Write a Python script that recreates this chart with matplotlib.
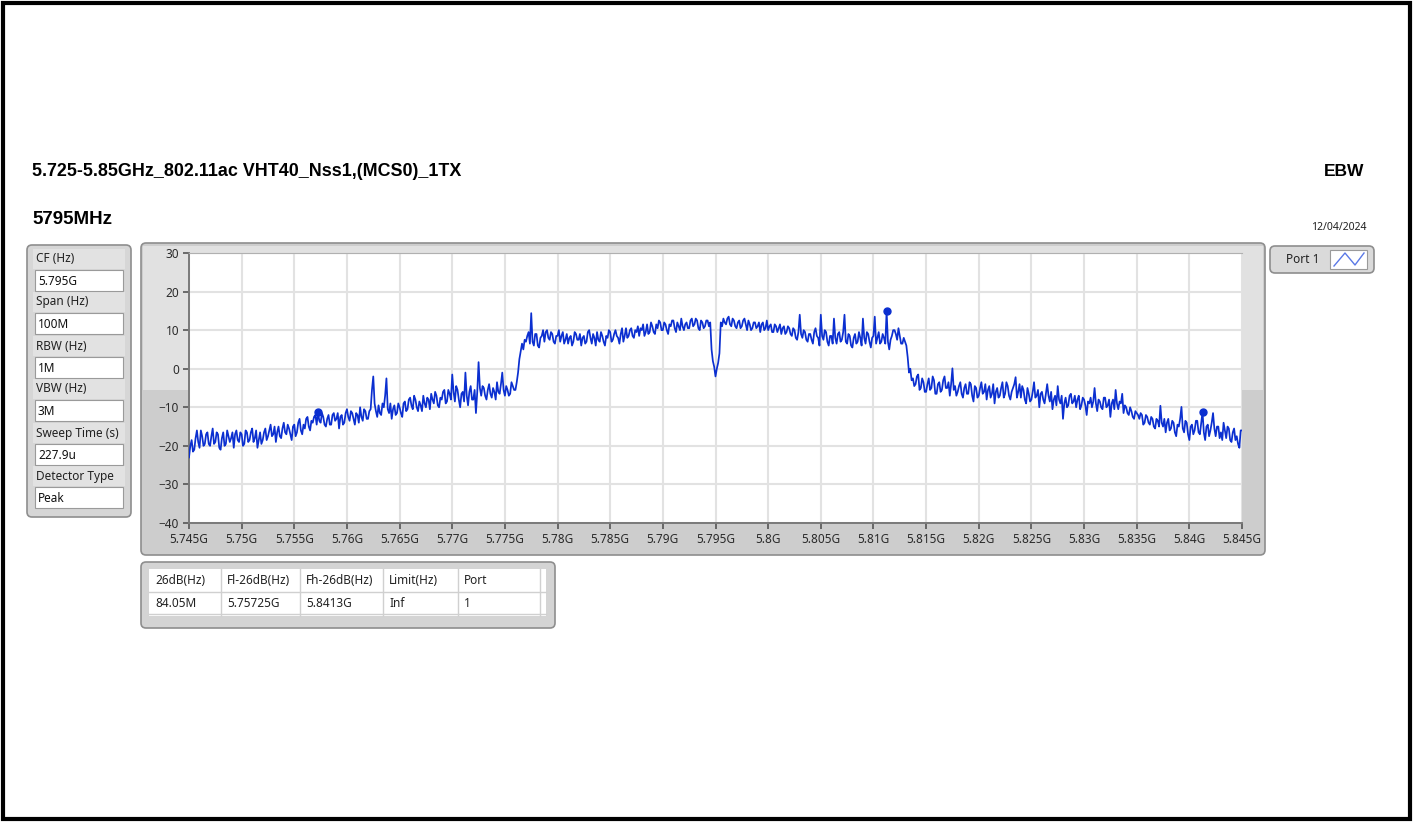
import numpy as np
import matplotlib.pyplot as plt
from matplotlib.patches import FancyBboxPatch, Rectangle
from matplotlib.lines import Line2D

plt.rcParams['font.family'] = ['Noto Sans', 'DejaVu Sans']
HEAD_FONT = ['Liberation Sans', 'DejaVu Sans']

W, H = 1415, 822

# ---- measurement settings / results ----
TITLE = "5.725-5.85GHz_802.11ac VHT40_Nss1,(MCS0)_1TX"
TEST_NAME = "EBW"
CHANNEL = "5795MHz"
DATE = "12/04/2024"

setting_names = ["CF (Hz)", "Span (Hz)", "RBW (Hz)", "VBW (Hz)", "Sweep Time (s)", "Detector Type"]
setting_values = ["5.795G", "100M", "1M", "3M", "227.9u", "Peak"]

table_header = ["26dB(Hz)", "Fl-26dB(Hz)", "Fh-26dB(Hz)", "Limit(Hz)", "Port"]
table_row = ["84.05M", "5.75725G", "5.8413G", "Inf", "1"]
fl_26db = 5.75725
fh_26db = 5.8413

f_start, f_stop = 5.745, 5.845
x_ticks = np.round(np.arange(f_start, f_stop + 0.0001, 0.005), 3)
x_tick_labels = ["5.745G", "5.75G", "5.755G", "5.76G", "5.765G", "5.77G", "5.775G",
                 "5.78G", "5.785G", "5.79G", "5.795G", "5.8G", "5.805G", "5.81G",
                 "5.815G", "5.82G", "5.825G", "5.83G", "5.835G", "5.84G", "5.845G"]
y_ticks = [-40, -30, -20, -10, 0, 10, 20, 30]

# trace level in dBm, one row per MHz (0.125 MHz steps)
trace_db = [
    -23.0, -20.0, -18.5, -21.5, -21.0, -18.0, -16.0, -19.0,
    -20.5, -16.0, -17.5, -20.0, -19.5, -17.0, -16.5, -19.5,
    -20.0, -17.5, -15.5, -19.5, -19.0, -16.5, -17.0, -20.5,
    -21.0, -18.0, -16.5, -20.0, -19.5, -16.0, -17.5, -19.0,
    -18.0, -16.5, -20.5, -17.0, -16.0, -18.5, -19.0, -16.5,
    -17.0, -20.0, -19.5, -16.0, -16.5, -19.0, -18.5, -16.5,
    -15.5, -19.0, -18.0, -16.0, -20.5, -18.5, -16.5, -19.5,
    -18.5, -16.5, -15.5, -18.5, -17.5, -16.0, -14.5, -17.5,
    -17.0, -15.0, -19.0, -16.5, -15.0, -17.5, -18.0, -15.5,
    -14.0, -16.5, -17.0, -14.5, -15.5, -17.0, -18.5, -15.0,
    -14.5, -17.5, -16.5, -14.0, -13.0, -16.0, -17.0, -14.5,
    -15.5, -13.0, -12.5, -15.0, -16.0, -13.5, -14.0, -12.5,
    -12.0, -14.5, -11.2, -13.5, -14.0, -11.5, -12.5, -14.5,
    -15.0, -13.0, -12.0, -14.5, -14.5, -12.0, -11.5, -13.5,
    -13.0, -11.5, -15.5, -12.5, -12.0, -14.5, -14.0, -11.5,
    -10.5, -12.5, -13.5, -11.0, -11.5, -13.0, -14.5, -11.5,
    -12.0, -14.0, -10.0, -12.5, -13.5, -10.5, -11.0, -13.0,
    -13.0, -11.0, -10.5, -5.5, -2.0, -9.0, -11.0, -12.5,
    -9.5, -11.5, -12.0, -9.0, -10.0, -7.0, -2.5, -10.5,
    -11.5, -9.0, -13.0, -10.5, -9.5, -12.0, -11.5, -9.0,
    -10.0, -11.5, -12.5, -9.0, -8.5, -11.0, -10.5, -8.0,
    -7.5, -9.5, -10.5, -7.0, -8.0, -10.0, -11.0, -8.5,
    -9.5, -11.0, -7.0, -9.0, -10.0, -7.5, -8.0, -10.5,
    -6.5, -8.0, -9.0, -6.0, -7.0, -9.5, -10.0, -7.5,
    -8.0, -6.0, -5.5, -9.0, -8.5, -5.5, -6.5, -8.0,
    -1.5, -6.0, -8.5, -4.5, -5.5, -8.0, -10.0, -6.5,
    -6.0, -8.5, -1.0, -7.0, -9.5, -6.0, -4.5, -8.0,
    -8.0, -5.5, -11.5, -6.0, 1.7, -5.0, -7.0, -4.5,
    -5.0, -7.0, -8.0, -5.5, -4.0, -6.5, -7.5, -5.0,
    -6.0, -8.0, -3.5, -6.0, -6.5, -4.0, -1.0, -5.5,
    -7.0, -4.5, -5.5, -7.0, -6.5, -3.5, -4.5, -5.5,
    -5.5, -3.5, -1.0, 2.5, 4.5, 6.5, 5.0, 7.5,
    7.0, 8.5, 9.5, 6.5, 14.4, 7.0, 6.0, 9.0,
    9.0, 6.0, 5.5, 8.0, 8.5, 10.0, 7.0, 9.5,
    10.0, 8.0, 7.5, 9.5, 9.0, 7.0, 6.5, 8.5,
    8.5, 10.0, 7.0, 8.5, 9.5, 6.5, 7.5, 9.0,
    6.5, 8.0, 8.5, 6.0, 7.0, 9.5, 9.0, 7.5,
    7.5, 9.0, 6.0, 8.0, 8.5, 6.5, 7.0, 9.5,
    10.0, 8.0, 6.5, 9.0, 8.0, 6.0, 9.5, 7.5,
    7.0, 9.5, 8.5, 7.0, 6.0, 8.5, 8.0, 10.0,
    9.5, 7.0, 7.5, 9.0, 10.0, 8.5, 8.0, 6.5,
    9.0, 10.5, 7.0, 8.5, 10.5, 8.0, 8.5, 10.0,
    10.5, 8.5, 8.0, 10.0, 9.5, 11.0, 8.5, 10.5,
    10.0, 11.5, 8.5, 9.5, 11.5, 9.0, 9.5, 12.0,
    11.0, 9.5, 9.0, 11.5, 10.5, 12.5, 12.0, 10.0,
    10.0, 12.0, 11.5, 10.0, 9.0, 11.5, 11.0, 12.5,
    12.5, 10.5, 9.5, 12.0, 11.0, 10.0, 13.0, 11.0,
    10.0, 11.5, 12.0, 10.5, 10.5, 12.5, 13.0, 11.0,
    11.5, 13.0, 12.5, 10.5, 10.0, 12.5, 12.0, 10.5,
    11.0, 12.5, 12.5, 11.0, 12.0, 5.0, 2.0, 0.5,
    -2.0, 0.0, 1.5, 4.0, 12.0, 11.0, 13.0, 12.0,
    11.5, 13.0, 13.5, 11.5, 11.0, 13.0, 12.5, 11.0,
    10.5, 12.0, 12.5, 10.5, 11.0, 12.5, 13.0, 11.5,
    10.0, 12.5, 11.5, 10.0, 10.5, 12.0, 12.0, 10.5,
    11.0, 12.0, 9.5, 11.5, 12.0, 10.0, 10.5, 12.5,
    10.0, 11.0, 11.5, 9.5, 9.5, 11.5, 11.0, 9.5,
    10.5, 11.5, 9.0, 10.5, 11.0, 9.0, 9.5, 11.0,
    10.5, 9.0, 8.5, 10.5, 10.0, 8.0, 7.5, 9.5,
    14.0, 9.0, 8.0, 10.0, 9.5, 7.5, 7.0, 9.0,
    9.0, 7.5, 6.5, 9.5, 10.5, 8.5, 8.0, 6.0,
    14.0, 8.5, 7.5, 10.0, 9.5, 7.0, 6.0, 8.5,
    8.5, 6.5, 13.0, 8.0, 6.5, 9.0, 9.5, 7.0,
    7.5, 9.5, 14.0, 7.0, 6.5, 9.0, 8.5, 6.0,
    5.5, 8.0, 9.0, 6.5, 7.0, 9.5, 8.0, 6.0,
    13.0, 8.0, 6.5, 9.5, 9.0, 7.0, 5.5, 8.0,
    8.5, 13.5, 6.5, 8.0, 9.5, 6.5, 7.0, 9.0,
    8.0, 6.5, 14.9, 7.0, 5.0, 7.5, 8.5, 10.0,
    10.0, 9.0, 7.5, 10.5, 8.5, 6.5, 6.5, 8.0,
    7.0, 6.0, 3.0, -1.0, 0.0, -3.0, -2.5, -4.5,
    -4.0, -2.0, -1.5, -5.5, -5.0, -2.5, -3.5, -6.0,
    -6.0, -4.0, -2.5, -5.5, -5.0, -2.0, -3.0, -6.5,
    -6.5, -4.0, -3.5, -6.0, -5.5, -3.0, -2.0, -5.0,
    -5.0, -3.5, -7.0, -4.0, 0.1, -5.5, -4.5, -7.0,
    -6.0, -4.5, -3.5, -6.5, -7.5, -5.0, -4.0, -6.5,
    -6.5, -3.5, -4.0, -7.0, -8.5, -4.5, -5.0, -7.5,
    -7.0, -5.0, -3.5, -6.5, -6.0, -4.0, -8.0, -5.5,
    -4.5, -7.5, -6.5, -4.0, -9.0, -6.0, -5.0, -7.5,
    -7.0, -5.0, -3.5, -7.5, -6.5, -3.5, -4.5, -7.0,
    -8.0, -6.0, -5.0, -4.0, -2.2, -7.5, -6.0, -4.0,
    -7.5, -4.5, -5.5, -8.0, -9.0, -5.0, -6.5, -8.5,
    -8.0, -6.0, -3.5, -7.5, -7.0, -5.5, -10.0, -6.5,
    -6.0, -8.0, -9.0, -6.5, -4.0, -7.0, -8.5, -6.0,
    -10.5, -8.0, -7.0, -9.5, -4.5, -8.0, -9.0, -7.0,
    -13.0, -9.0, -7.5, -10.0, -9.5, -7.0, -6.5, -9.0,
    -8.5, -7.0, -10.0, -8.0, -7.0, -10.5, -9.5, -7.5,
    -8.0, -9.5, -12.0, -8.5, -9.0, -7.5, -10.0, -8.5,
    -5.0, -9.0, -11.0, -8.0, -8.5, -10.0, -10.5, -7.5,
    -7.5, -10.0, -9.5, -8.0, -12.5, -9.0, -8.0, -10.5,
    -5.5, -9.0, -10.5, -8.5, -9.0, -6.5, -11.5, -9.5,
    -10.0, -11.5, -12.0, -10.0, -11.0, -12.5, -13.0, -11.0,
    -11.5, -12.0, -13.0, -11.5, -12.0, -14.5, -14.0, -12.0,
    -12.5, -14.0, -14.5, -12.5, -13.0, -15.0, -15.5, -13.0,
    -13.5, -15.0, -9.6, -14.0, -15.0, -13.0, -16.5, -14.0,
    -13.0, -16.0, -15.5, -13.5, -14.0, -16.5, -17.5, -14.5,
    -15.0, -13.0, -9.9, -15.5, -16.5, -13.5, -14.0, -17.0,
    -18.5, -15.0, -14.5, -17.0, -16.0, -13.5, -13.5, -16.5,
    -17.0, -14.0, -11.2, -16.5, -18.5, -15.0, -14.5, -17.5,
    -16.0, -14.0, -11.5, -15.5, -17.5, -15.0, -15.0, -18.0,
    -16.5, -18.5, -14.0, -16.0, -18.0, -15.0, -15.5, -18.5,
    -19.0, -16.5, -15.5, -18.5, -17.5, -19.5, -20.5, -16.0,
    -16.0,
]

trace = np.array(trace_db)
freq = np.linspace(f_start, f_stop, len(trace))


def fx(px):
    return px / W


def fy(py):
    return 1 - py / H


fig = plt.figure(figsize=(W / 100, H / 100), dpi=100)
fig.patch.set_facecolor('white')


def panel(x0, y0, x1, y1, fc, ec='#8e8e8e', lw=1.2, r=5, z=0):
    p = FancyBboxPatch((fx(x0), fy(y1)), fx(x1) - fx(x0), fy(y0) - fy(y1),
                       boxstyle=f"round,pad=0,rounding_size={r / W}",
                       mutation_aspect=W / H, transform=fig.transFigure,
                       fc=fc, ec=ec, lw=lw, zorder=z)
    fig.patches.append(p)


def rect(x0, y0, x1, y1, fc, ec='none', lw=0, z=1):
    p = Rectangle((fx(x0), fy(y1)), fx(x1) - fx(x0), fy(y0) - fy(y1),
                  transform=fig.transFigure, fc=fc, ec=ec, lw=lw, zorder=z)
    fig.patches.append(p)


def hline(x0, x1, y, color, lw=1.0, z=2):
    fig.lines.append(Line2D([fx(x0), fx(x1)], [fy(y), fy(y)], transform=fig.transFigure,
                            color=color, lw=lw, zorder=z))


def vline(x, y0, y1, color, lw=1.0, z=2):
    fig.lines.append(Line2D([fx(x), fx(x)], [fy(y0), fy(y1)], transform=fig.transFigure,
                            color=color, lw=lw, zorder=z))


# page border
rect(3, 3, 1410, 819, 'none', ec='black', lw=3, z=10)

# headings
fig.text(fx(32), fy(171), TITLE, fontsize=12.9, fontweight='bold', family=HEAD_FONT,
         va='center', ha='left')
fig.text(fx(1364), fy(171), TEST_NAME, fontsize=12.5, fontweight='bold', family=HEAD_FONT,
         va='center', ha='right')
fig.text(fx(32), fy(220), CHANNEL, fontsize=13.5, fontweight='bold', family=HEAD_FONT,
         va='center', ha='left')
fig.text(fx(1367), fy(228), DATE, fontsize=7.5, va='center', ha='right', color='#222222')

# settings panel
panel(27, 245, 131, 517, '#d6d6d6')
label_y = [259, 302, 346, 389, 433, 476]
for name, val, ly in zip(setting_names, setting_values, label_y):
    rect(33, ly - 10, 125, ly + 10, '#e2e2e2', z=1)
    fig.text(fx(36), fy(ly), name, fontsize=8.5, va='center', ha='left', color='#222222', zorder=3)
    rect(35, ly + 11, 123, ly + 32, 'white', ec='#9a9a9a', lw=0.8, z=2)
    fig.text(fx(38), fy(ly + 22), val, fontsize=8.5, va='center', ha='left', color='#111111', zorder=3)

# graph panel (two-tone background)
panel(141, 243, 1265, 555, '#cdcdcd', z=0)
rect(143, 246, 1263, 390, '#e1e1e1', z=0.5)

ax = fig.add_axes([fx(189), fy(523), fx(1242) - fx(189), fy(253) - fy(523)])
ax.set_zorder(5)
ax.set_facecolor('white')
ax.plot(freq, trace, color='#0b2fd0', lw=1.25, zorder=3)

# 26 dB edge and peak markers, placed on the nearest sweep point
pk = int(np.argmax(trace))
i_lo = int(np.argmin(np.abs(freq - fl_26db)))
i_hi = int(np.argmin(np.abs(freq - fh_26db)))
mk = [i_lo, pk, i_hi]
ax.plot(freq[mk], trace[mk], 'o', color='#0b2fd0', ms=5, zorder=4)

ax.set_xlim(f_start, f_stop)
ax.set_ylim(-40, 30)
ax.set_xticks(x_ticks)
ax.set_xticklabels(x_tick_labels)
ax.set_yticks(y_ticks)
ax.grid(True, color='#e2e2e2', lw=1.5)
ax.set_axisbelow(True)
ax.spines['right'].set_visible(False)
ax.spines['top'].set_color('#b0b0b0')
ax.spines['left'].set_color('#7a7a7a')
ax.spines['bottom'].set_color('#7a7a7a')
ax.spines['left'].set_linewidth(1.4)
ax.spines['bottom'].set_linewidth(1.4)
ax.tick_params(axis='both', labelsize=8.5, colors='#555555', labelcolor='#2a2a2a',
               length=4, width=1.2, pad=3)

# legend box
panel(1270, 246, 1374, 273, '#dadada')
fig.text(fx(1286), fy(259.5), "Port 1", fontsize=8.5, va='center', ha='left', color='#222222')
rect(1330, 250, 1367, 269, 'white', ec='#9a9a9a', lw=0.8, z=2)
fig.lines.append(Line2D([fx(1334), fx(1345), fx(1355), fx(1364)],
                        [fy(266), fy(253), fy(265), fy(253)],
                        transform=fig.transFigure, color='#5a78e6', lw=1.0, zorder=3))

# result table
panel(141, 562, 555, 628, '#d4d4d4')
rect(149, 569, 546, 616, 'white', z=1)
col_x = [149, 221, 300, 383, 458, 540]
for cx in col_x[1:]:
    vline(cx, 569, 616, '#d0d0d0')
hline(149, 546, 592, '#d0d0d0')
hline(149, 546, 614, '#d0d0d0')
for i in range(5):
    fig.text(fx(col_x[i] + 6), fy(581), table_header[i], fontsize=8.5, va='center', ha='left', color='#222222')
    fig.text(fx(col_x[i] + 6), fy(603), table_row[i], fontsize=8.5, va='center', ha='left', color='#222222')

fig.savefig("out.png", dpi=100)
